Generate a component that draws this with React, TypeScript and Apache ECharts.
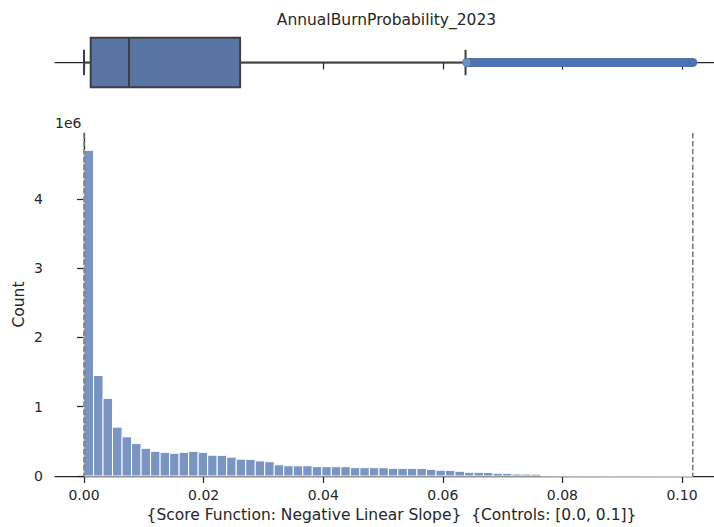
import React, { useEffect, useRef } from "react";
import * as echarts from "echarts";

const TITLE = "AnnualBurnProbability_2023";
const X_LABEL = "{Score Function: Negative Linear Slope}  {Controls: [0.0, 0.1]}";
const Y_LABEL = "Count";
const Y_OFFSET_TEXT = "1e6";

const X_TICKS = [0, 0.02, 0.04, 0.06, 0.08, 0.1];
const X_TICK_LABELS = ["0.00", "0.02", "0.04", "0.06", "0.08", "0.10"];
const Y_TICKS = [0, 1e6, 2e6, 3e6, 4e6];
const Y_TICK_LABELS = ["0", "1", "2", "3", "4"];

const X_MIN = -0.00485;
const X_MAX = 0.10535;
const Y_MAX = 4.95e6;

// histogram: 64 equal bins from DATA_MIN to DATA_MAX
const DATA_MIN = 0;
const DATA_MAX = 0.1018;
const BIN_COUNT = 64;
const HIST_COUNTS = [
  4700000, 1450000, 1120000, 705000, 565000, 468000, 400000, 356000,
  342000, 328000, 342000, 356000, 342000, 300000, 298000, 272000,
  243000, 241000, 218000, 205000, 162000, 148000, 147000, 148000,
  135000, 135000, 134000, 134000, 121000, 120000, 120000, 119000,
  110000, 110000, 110000, 109000, 96000, 83000, 82000, 68000,
  54000, 53000, 52000, 39000, 38000, 29000, 28000, 27000,
  4000, 3000, 3000, 2000, 2000, 2000, 1000, 1000,
  1000, 1000, 1000, 800, 600, 500, 400, 300,
];

// boxplot summary
const BOX_STATS = [0.0, 0.00112, 0.00753, 0.0261, 0.0638]; // low whisker, Q1, median, Q3, high whisker
const OUTLIER_RANGE = [0.064, 0.1018];
const CONTROL_LINES = [0.0, 0.1018];

const FONT = "DejaVu Sans";
const INK = "#262626";

export default function App() {
  const ref = useRef<HTMLDivElement>(null);
  useEffect(() => {
    if (!ref.current) return;
    const chart = echarts.init(ref.current, null, { renderer: "svg" });
    const binW = (DATA_MAX - DATA_MIN) / BIN_COUNT;
    const histData = HIST_COUNTS.map((c, i) => [DATA_MIN + i * binW, DATA_MIN + (i + 1) * binW, c]);
    const fmtX = (v: number) => {
      const i = X_TICKS.findIndex((t) => Math.abs(t - v) < 1e-9);
      return i >= 0 ? X_TICK_LABELS[i] : "";
    };
    const fmtY = (v: number) => {
      const i = Y_TICKS.findIndex((t) => Math.abs(t - v) < 1e-3);
      return i >= 0 ? Y_TICK_LABELS[i] : "";
    };
    const axisLine = { show: true, lineStyle: { color: INK, width: 1.25 } };
    const axisTickBase = { show: true, length: 7, lineStyle: { color: INK, width: 1.25 } };
    const BOX_HALF = 0.84;
    const CAP_HALF = 0.43;

    chart.setOption({
      animation: false,
      backgroundColor: "#ffffff",
      grid: [
        { left: 55, right: 0, top: 33, height: 59, outerBoundsMode: "none", containLabel: false },
        { left: 55, right: 0, top: 133, bottom: 51, outerBoundsMode: "none", containLabel: false },
      ],
      xAxis: [
        {
          gridIndex: 0,
          type: "value",
          min: X_MIN,
          max: X_MAX,
          axisLine,
          axisTick: { ...axisTickBase, customValues: X_TICKS },
          axisLabel: { show: false },
          splitLine: { show: false },
        },
        {
          gridIndex: 1,
          type: "value",
          min: X_MIN,
          max: X_MAX,
          axisLine,
          axisTick: { ...axisTickBase, customValues: X_TICKS },
          axisLabel: {
            customValues: X_TICKS,
            formatter: fmtX,
            color: INK,
            fontFamily: FONT,
            fontSize: 14,
            margin: 12,
          },
          splitLine: { show: false },
        },
      ],
      yAxis: [
        { gridIndex: 0, type: "value", min: -1, max: 1, show: false },
        {
          gridIndex: 1,
          type: "value",
          min: 0,
          max: Y_MAX,
          axisLine,
          axisTick: { ...axisTickBase, customValues: Y_TICKS },
          axisLabel: {
            customValues: Y_TICKS,
            formatter: fmtY,
            color: INK,
            fontFamily: FONT,
            fontSize: 14,
            margin: 12,
          },
          splitLine: { show: false },
          name: Y_LABEL,
          nameLocation: "middle",
          nameGap: 28,
          nameMoveOverlap: false,
          nameRotate: 90,
          nameTextStyle: { color: INK, fontFamily: FONT, fontSize: 15.5 },
        },
      ],
      graphic: [
        {
          type: "text",
          x: 386.5,
          y: 20,
          style: {
            text: TITLE,
            align: "center",
            verticalAlign: "middle",
            textAlign: "center",
            textVerticalAlign: "middle",
            fontFamily: FONT,
            fontSize: 15.5,
            fill: INK,
          },
        },
        {
          type: "text",
          x: 391.5,
          y: 515,
          style: {
            text: X_LABEL,
            align: "center",
            verticalAlign: "middle",
            textAlign: "center",
            textVerticalAlign: "middle",
            fontFamily: FONT,
            fontSize: 15.5,
            fill: INK,
          },
        },
        {
          type: "text",
          x: 55,
          y: 123,
          style: {
            text: Y_OFFSET_TEXT,
            align: "left",
            verticalAlign: "middle",
            textAlign: "left",
            textVerticalAlign: "middle",
            fontFamily: FONT,
            fontSize: 14,
            fill: INK,
          },
        },
      ],
      series: [
        {
          type: "custom",
          xAxisIndex: 0,
          yAxisIndex: 0,
          data: [BOX_STATS],
          encode: { x: [0, 1, 2, 3, 4] },
          renderItem: (_p: any, api: any) => {
            const lo = api.value(0), q1 = api.value(1), med = api.value(2), q3 = api.value(3), hi = api.value(4);
            const cy = api.coord([lo, 0])[1];
            const top = api.coord([lo, BOX_HALF])[1];
            const bot = api.coord([lo, -BOX_HALF])[1];
            const capTop = api.coord([lo, CAP_HALF])[1];
            const capBot = api.coord([lo, -CAP_HALF])[1];
            const xLo = api.coord([lo, 0])[0];
            const xQ1 = api.coord([q1, 0])[0];
            const xMed = api.coord([med, 0])[0];
            const xQ3 = api.coord([q3, 0])[0];
            const xHi = api.coord([hi, 0])[0];
            const ls = { stroke: "#3f3f3f", lineWidth: 2, fill: "none" };
            return {
              type: "group",
              children: [
                { type: "line", shape: { x1: xLo, y1: cy, x2: xQ1, y2: cy }, style: ls },
                { type: "line", shape: { x1: xQ3, y1: cy, x2: xHi, y2: cy }, style: ls },
                { type: "line", shape: { x1: xLo, y1: capTop, x2: xLo, y2: capBot }, style: ls },
                { type: "line", shape: { x1: xHi, y1: capTop, x2: xHi, y2: capBot }, style: ls },
                {
                  type: "rect",
                  shape: { x: xQ1, y: top, width: xQ3 - xQ1, height: bot - top },
                  style: { fill: "#5875a4", stroke: "#3f3f3f", lineWidth: 2 },
                },
                { type: "line", shape: { x1: xMed, y1: top, x2: xMed, y2: bot }, style: ls },
              ],
            };
          },
          z: 2,
        },
        {
          type: "custom",
          xAxisIndex: 0,
          yAxisIndex: 0,
          data: [OUTLIER_RANGE],
          encode: { x: [0, 1] },
          renderItem: (_p: any, api: any) => {
            const a = api.coord([api.value(0), 0]);
            const b = api.coord([api.value(1), 0]);
            return {
              type: "group",
              children: [
                {
                  type: "line",
                  shape: { x1: a[0], y1: a[1], x2: b[0], y2: b[1] },
                  style: { stroke: "#4c72b0", lineWidth: 9, lineCap: "round" },
                },
                {
                  type: "circle",
                  shape: { cx: a[0], cy: a[1], r: 4 },
                  style: { fill: "rgba(120,150,205,0.8)" },
                },
              ],
            };
          },
          z: 3,
        },
        {
          type: "custom",
          xAxisIndex: 1,
          yAxisIndex: 1,
          data: histData,
          encode: { x: [0, 1], y: 2 },
          renderItem: (_p: any, api: any) => {
            const p0 = api.coord([api.value(0), api.value(2)]);
            const p1 = api.coord([api.value(1), 0]);
            return {
              type: "rect",
              shape: { x: p0[0], y: p0[1], width: p1[0] - p0[0], height: p1[1] - p0[1] },
              style: { fill: "rgba(76,114,176,0.75)", stroke: "#ffffff", lineWidth: 1 },
            };
          },
          z: 2,
        },
        {
          type: "custom",
          xAxisIndex: 1,
          yAxisIndex: 1,
          data: CONTROL_LINES.map((v) => [v]),
          encode: { x: 0 },
          renderItem: (_p: any, api: any) => {
            const t = api.coord([api.value(0), Y_MAX]);
            const b = api.coord([api.value(0), 0]);
            return {
              type: "line",
              shape: { x1: t[0], y1: t[1], x2: b[0], y2: b[1] },
              style: { stroke: "#7f7f7f", lineWidth: 1.6, lineDash: [5.5, 2.4] },
            };
          },
          z: 4,
        },
      ],
    });
    return () => chart.dispose();
  }, []);
  return (
    <div
      ref={ref}
      style={{ position: "fixed", left: 0, top: 0, width: 714, height: 527, background: "#fff" }}
    />
  );
}
